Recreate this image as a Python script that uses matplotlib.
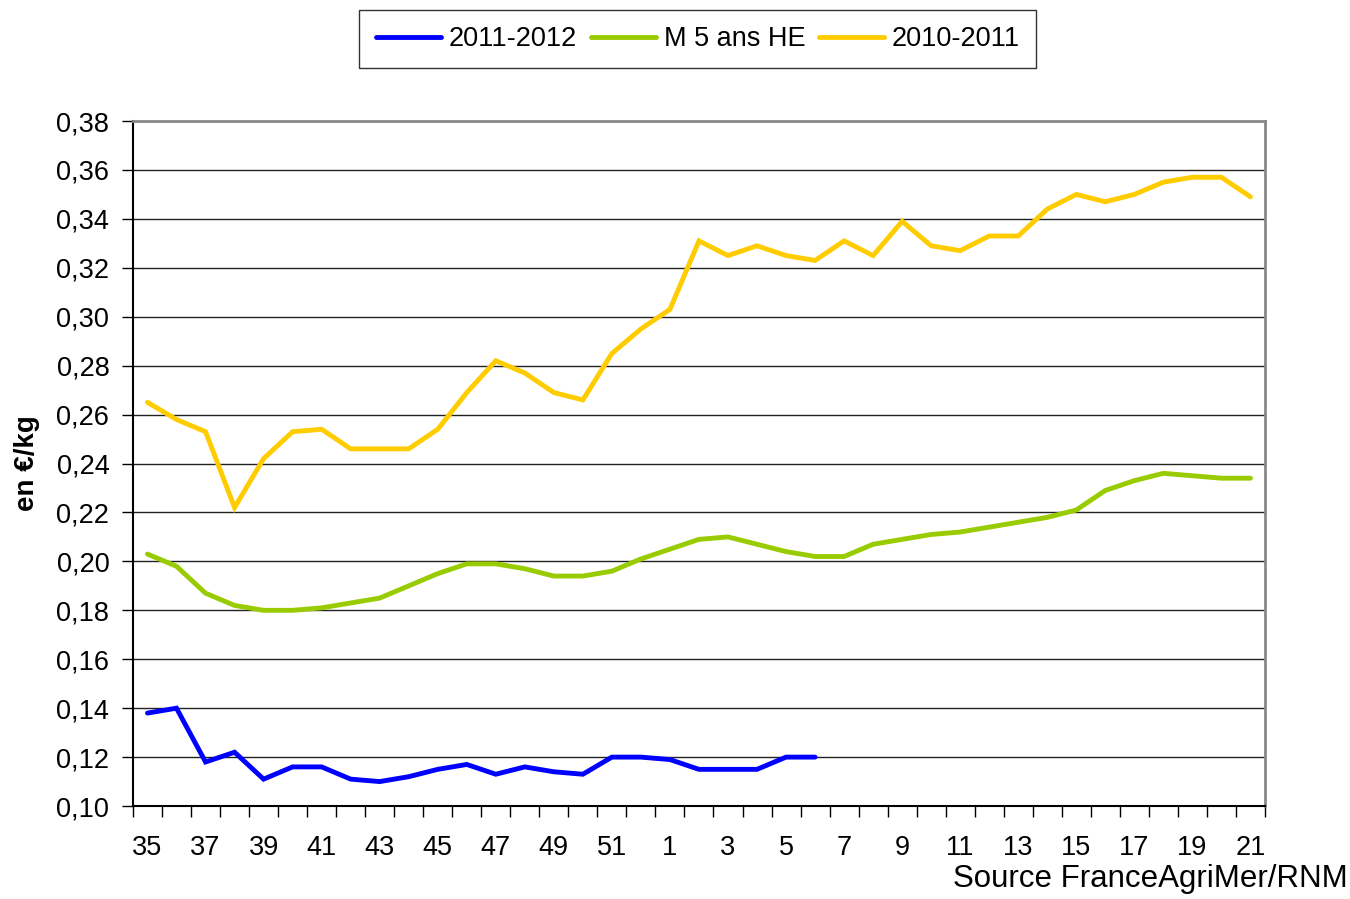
import numpy as np
import matplotlib.pyplot as plt

plt.rcParams['font.family'] = ['Liberation Sans', 'DejaVu Sans']

# Semaines : 35 à 52 puis 1 à 21
semaines = list(range(35, 53)) + list(range(1, 22))

# Prix en €/kg
prix_2011_2012 = [0.138, 0.140, 0.118, 0.122, 0.111, 0.116, 0.116, 0.111, 0.110,
                  0.112, 0.115, 0.117, 0.113, 0.116, 0.114, 0.113, 0.120, 0.120,
                  0.119, 0.115, 0.115, 0.115, 0.120, 0.120]

prix_m5 = [0.203, 0.198, 0.187, 0.182, 0.180, 0.180, 0.181, 0.183, 0.185, 0.190,
           0.195, 0.199, 0.199, 0.197, 0.194, 0.194, 0.196, 0.201, 0.205, 0.209,
           0.210, 0.207, 0.204, 0.202, 0.202, 0.207, 0.209, 0.211, 0.212, 0.214,
           0.216, 0.218, 0.221, 0.229, 0.233, 0.236, 0.235, 0.234, 0.234]

prix_2010_2011 = [0.265, 0.258, 0.253, 0.222, 0.242, 0.253, 0.254, 0.246, 0.246,
                  0.246, 0.254, 0.269, 0.282, 0.277, 0.269, 0.266, 0.285, 0.295,
                  0.303, 0.331, 0.325, 0.329, 0.325, 0.323, 0.331, 0.325, 0.339,
                  0.329, 0.327, 0.333, 0.333, 0.344, 0.350, 0.347, 0.350, 0.355,
                  0.357, 0.357, 0.349]

fig = plt.figure(figsize=(13.5, 8.99), dpi=100)
ax = fig.add_axes([0.0985, 0.1034, 0.8385, 0.762])

x = np.arange(len(semaines))
ax.plot(x[:len(prix_2011_2012)], prix_2011_2012, color='#0000FF', lw=3.5,
        label='2011-2012', solid_capstyle='round', solid_joinstyle='miter')
ax.plot(x, prix_m5, color='#99CC00', lw=3.5, label='M 5 ans HE',
        solid_capstyle='round', solid_joinstyle='miter')
ax.plot(x, prix_2010_2011, color='#FFCC00', lw=3.5, label='2010-2011',
        solid_capstyle='round', solid_joinstyle='miter')

ax.set_xlim(-0.5, len(semaines) - 0.5)
ax.set_ylim(0.10, 0.38)
yt = np.arange(0.10, 0.3801, 0.02)
ax.set_yticks(yt)
ax.set_yticklabels([f'{v:.2f}'.replace('.', ',') for v in yt], fontsize=19.5)
ax.yaxis.grid(True, color='#222222', lw=1)
ax.set_axisbelow(True)

# graduations entre les catégories, étiquettes une semaine sur deux
ax.set_xticks(np.arange(-0.5, len(semaines), 1.0))
ax.set_xticklabels([])
ax.set_xticks(x[::2], minor=True)
ax.set_xticklabels([str(s) for s in semaines[::2]], minor=True, fontsize=19.5)
ax.tick_params(axis='x', which='minor', length=0, pad=21)
ax.tick_params(axis='x', which='major', length=8, width=1, direction='out')
ax.tick_params(axis='y', length=8, width=1, direction='out', pad=9)

for s in ['left', 'bottom']:
    ax.spines[s].set_color('black')
    ax.spines[s].set_linewidth(1.5)
for s in ['top', 'right']:
    ax.spines[s].set_color('#888888')
    ax.spines[s].set_linewidth(2)

ax.set_ylabel('en €/kg', fontsize=20, fontweight='bold', labelpad=12)

fig.text(0.998, 0.006, 'Source FranceAgriMer/RNM', fontsize=22.5, ha='right', va='bottom')

leg = fig.legend(loc='upper center', bbox_to_anchor=(0.517, 0.989), ncol=3,
                 fontsize=19.5, frameon=True, fancybox=False, edgecolor='black',
                 handlelength=2.4, handletextpad=0.3, columnspacing=0.5,
                 borderpad=0.6, borderaxespad=0)
leg.get_frame().set_linewidth(1)

fig.savefig('out.png', dpi=100)
